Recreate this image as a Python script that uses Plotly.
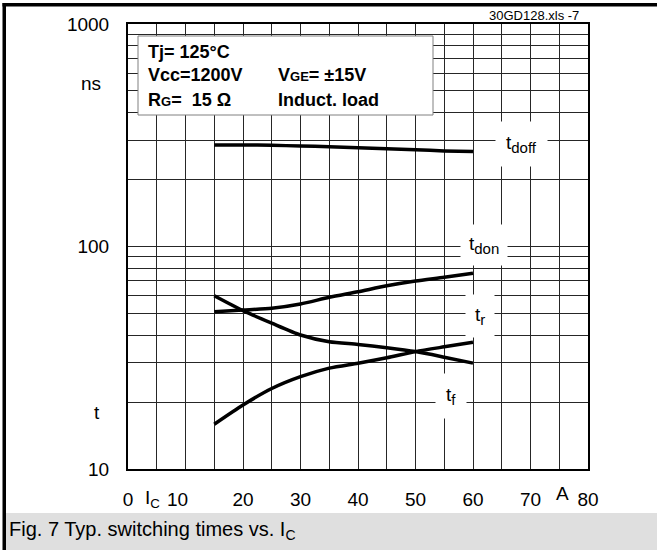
import plotly.graph_objects as go

# ---------------- data ----------------
current_a = [15, 20, 25, 30, 35, 40, 45, 50, 55, 60]
t_doff = [286, 286, 285, 283, 281, 278, 275, 272, 269, 267]
t_don = [50.9, 51.8, 52.8, 55.2, 59.1, 62.6, 66.6, 70.0, 72.7, 75.8]
t_r = [60.1, 51.5, 45.2, 40.0, 37.3, 36.3, 35.1, 33.7, 31.8, 29.9]
t_f = [15.9, 19.4, 23.0, 26.0, 28.4, 29.9, 31.6, 33.7, 35.4, 37.1]

x_tick_vals = [0, 10, 20, 30, 40, 50, 60, 70, 80]
x_tick_text = ["0", "10\u00a0\u00a0\u00a0", "20", "30", "40", "50", "60", "70", "80"]
x_minor_vals = [5, 15, 25, 35, 45, 55, 65, 75]
y_tick_vals = [10, 100, 1000]
y_tick_text = ["10", "100", "1000"]
y_minor_vals = [20, 30, 40, 50, 60, 70, 80, 90, 200, 300, 400, 500, 600, 700, 800, 900]

# ---------------- layout helpers (pixel -> paper) ----------------
W, H = 657, 550
L, R, T, B = 128, 588, 24, 469
FONT = "Liberation Sans, Arial, sans-serif"


def px(p):
    return (p - L) / (R - L)


def py(p):
    return (B - p) / (B - T)


fig = go.Figure()
for ys in (t_doff, t_don, t_r, t_f):
    fig.add_trace(go.Scatter(
        x=current_a, y=ys, mode="lines",
        line=dict(color="black", width=3.5, shape="spline", smoothing=0.7),
        showlegend=False, hoverinfo="skip"))

grid_col = "#262626"
fig.update_xaxes(
    range=[0, 80], tickvals=x_tick_vals, ticktext=x_tick_text,
    showgrid=True, gridcolor=grid_col, gridwidth=1,
    minor=dict(tickvals=x_minor_vals, showgrid=True, gridcolor=grid_col, gridwidth=1, ticks=""),
    showline=True, mirror=True, linecolor="black", linewidth=2,
    ticks="", zeroline=False, ticklabelstandoff=12,
    tickfont=dict(family=FONT, size=19, color="black"))
fig.update_yaxes(
    type="log", range=[1, 3], tickvals=y_tick_vals, ticktext=y_tick_text,
    showgrid=True, gridcolor=grid_col, gridwidth=1,
    minor=dict(tickvals=y_minor_vals, showgrid=True, gridcolor=grid_col, gridwidth=1, ticks=""),
    showline=True, mirror=True, linecolor="black", linewidth=2,
    ticks="", zeroline=False, ticklabelstandoff=13,
    tickfont=dict(family=FONT, size=19, color="black"))

shapes = [
    # caption band
    dict(type="rect", xref="paper", yref="paper", x0=px(6), x1=px(657), y0=py(550), y1=py(513),
         fillcolor="#dfdfdf", line=dict(width=0), layer="below"),
    # left black border
    dict(type="rect", xref="paper", yref="paper", x0=px(2.5), x1=px(6), y0=py(550), y1=py(3),
         fillcolor="black", line=dict(width=0), layer="above"),
    # top black border
    dict(type="rect", xref="paper", yref="paper", x0=px(2.5), x1=px(657), y0=py(6.5), y1=py(3),
         fillcolor="black", line=dict(width=0), layer="above"),
    # parameter box
    dict(type="rect", xref="paper", yref="paper", x0=px(138), x1=px(433), y0=py(115), y1=py(36),
         fillcolor="white", line=dict(color="#808080", width=1), layer="above"),
]
fig.update_layout(shapes=shapes)


def ann(text, x, y, size=19, xanchor="center", bg=None, pad=0, bold=False):
    d = dict(text=("<b>%s</b>" % text) if bold else text, xref="paper", yref="paper",
             x=px(x), y=py(y), xanchor=xanchor, yanchor="middle", showarrow=False,
             font=dict(family=FONT, size=size, color="black"), borderpad=pad)
    if bg:
        d["bgcolor"] = bg
    fig.add_annotation(**d)


small = "<span style='font-size:13px'>%s</span>"
sub = "<sub><span style='font-size:15px'>%s</span></sub>"
# parameter box text
ann("Tj= 125°C", 147, 52, size=18, xanchor="left", bold=True)
ann("Vcc=1200V", 147, 75, size=18, xanchor="left", bold=True)
ann("R" + small % "G" + "=  15 Ω", 147, 100, size=18, xanchor="left", bold=True)
ann("V" + small % "GE" + "= ±15V", 277, 75, size=18, xanchor="left", bold=True)
ann("Induct. load", 277, 100, size=18, xanchor="left", bold=True)

# curve labels
ann("t" + sub % "doff", 521, 144, size=19, bg="white", pad=10)
ann("t" + sub % "don", 484, 245, size=19, bg="white", pad=8)
ann("t" + sub % "r", 480, 316, size=19, bg="white", pad=9)
ann("t" + sub % "f", 451, 396, size=19, bg="white", pad=10)

# axis titles
ann("ns", 102, 83, xanchor="right")
ann("t", 101, 412, xanchor="right")
ann("I<sub>C</sub>", 144, 499, xanchor="left")
ann("A", 562, 494)

# file tag and caption
ann("30GD128.xls -7", 580, 15, size=13, xanchor="right")
ann("Fig. 7 Typ. switching times vs. I<sub>C</sub>", 8, 530, size=20, xanchor="left")

fig.update_layout(
    width=W, height=H, autosize=False,
    margin=dict(l=L, r=W - R, t=T, b=H - B, pad=0),
    paper_bgcolor="white", plot_bgcolor="white",
    font=dict(family=FONT, color="black"))

fig.write_html("out.html", config={"displayModeBar": False},
               post_script="document.body.style.margin='0';")
